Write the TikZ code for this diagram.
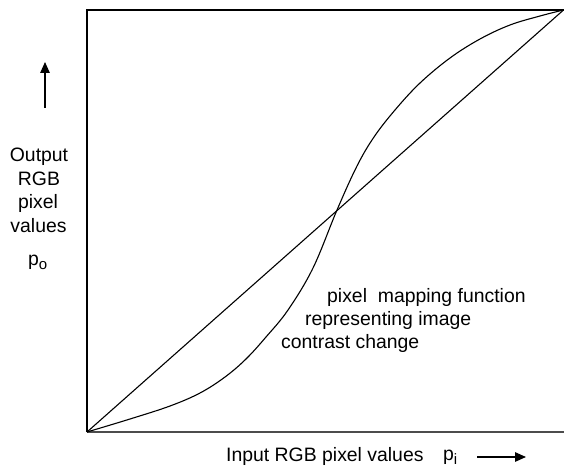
\documentclass[tikz,border=0pt]{standalone}
\usepackage{fontspec}
\setmainfont{Liberation Sans}
\usetikzlibrary{arrows.meta}
\newcommand{\mysub}[1]{\raisebox{-4.5pt}{\fontsize{15}{15}\selectfont #1}}
\tikzset{
  lbl/.style={inner sep=0pt, font=\fontsize{19.4}{23}\selectfont},
  frame/.style={line width=1.3pt, black},
  curveline/.style={line width=1.1pt, black},
  arr/.style={line width=1.3pt, -{Triangle[length=11pt,width=9.5pt]}}
}
\begin{document}
\begin{tikzpicture}[x=1pt,y=-1pt]
\useasboundingbox (0,0) rectangle (564,468);
% frame corners
\coordinate (tl) at (87,10);
\coordinate (tr) at (566,10);
\coordinate (bl) at (87,432);
\coordinate (br) at (566,432);
\coordinate (end) at (563.5,10);
\draw[frame] (tr) -- (tl) -- (bl);
\draw[line width=1.6pt, black!70] (bl) -- (br);
% diagonal
\draw[curveline] (bl) -- (end);
% S-curve
\draw[curveline] plot[smooth, tension=0.6] coordinates {
 (87,432) (130,419) (170,406) (200,393) (225,377) (246,359) (266,337)
 (288,310) (313,268) (337,210) (357,166) (374,137) (395,110) (420,83)
 (450,58) (480,39) (510,25) (540,16) (563.5,10)};
% left labels
\node[lbl, anchor=base] (out) at (39,161) {Output};
\node[lbl, anchor=base] (rgb) at (39,185) {RGB};
\node[lbl, anchor=base] (pix) at (38,208) {pixel};
\node[lbl, anchor=base] (val) at (38.5,232) {values};
\node[lbl, anchor=base west] (po) at (28,265) {p\mysub{o}};
\coordinate (ua) at (45,108);
\coordinate (ub) at (45,62);
\draw[arr] (ua) -- (ub);
% mid labels
\node[lbl, anchor=base west] (m1) at (327,302) {pixel\ \ mapping function};
\node[lbl, anchor=base west] (m2) at (305,325) {representing image};
\node[lbl, anchor=base west] (m3) at (281,348) {contrast change};
% bottom label
\node[lbl, anchor=base west] (inp) at (226,461) {Input RGB pixel values};
\node[lbl, anchor=base west] (pi) at (443,460) {p\mysub{i}};
\coordinate (ra) at (477,457);
\coordinate (rb) at (526,457);
\draw[arr] (ra) -- (rb);
\end{tikzpicture}
\end{document}
